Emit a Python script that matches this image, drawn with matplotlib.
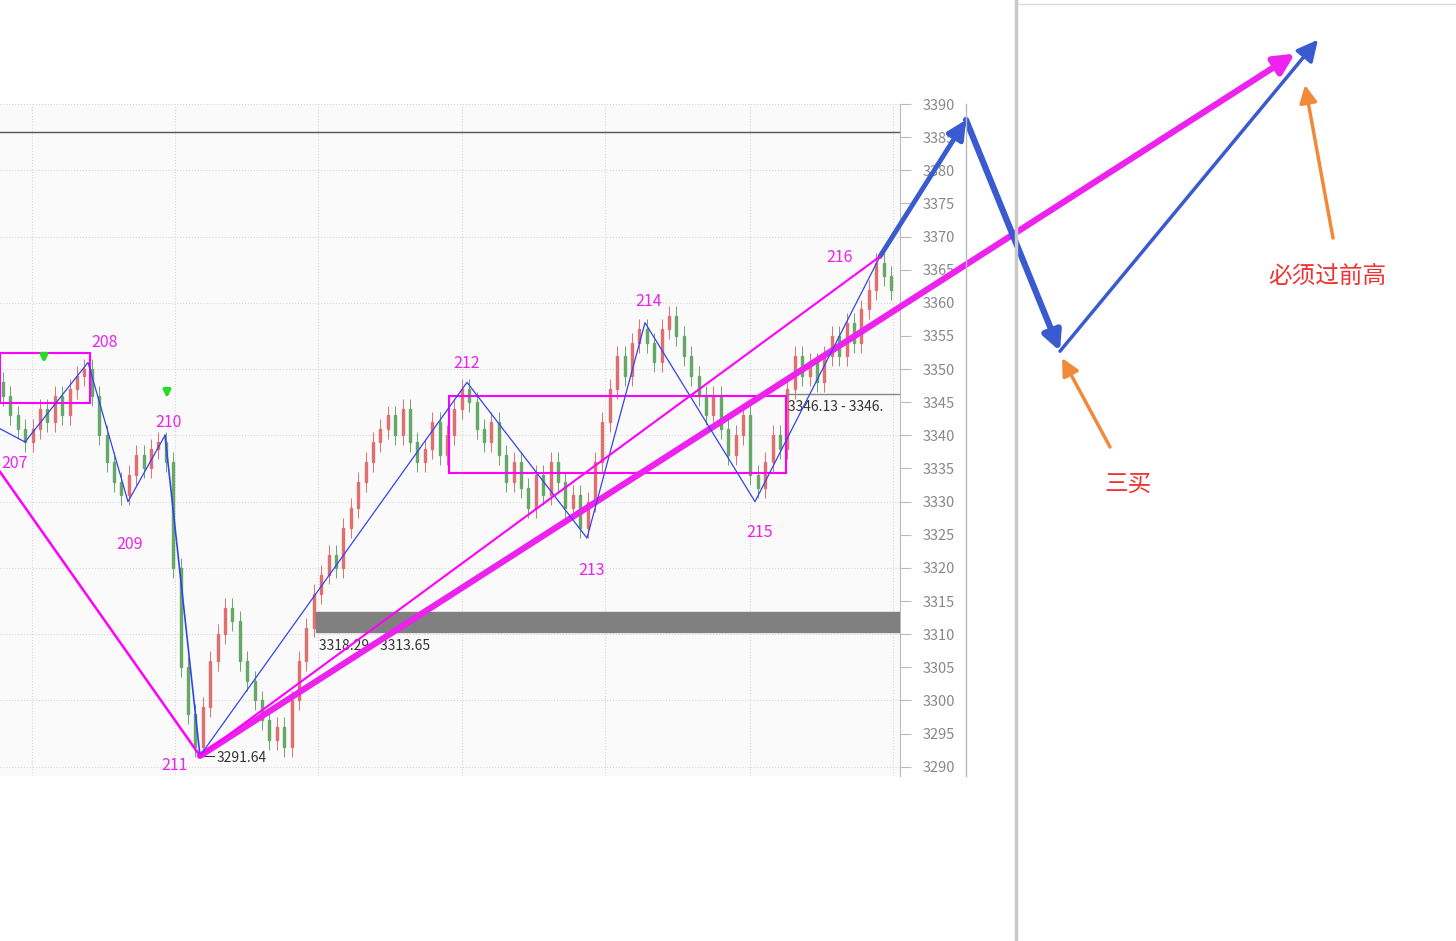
import matplotlib
matplotlib.use("Agg")
import matplotlib.pyplot as plt
from matplotlib.patches import Rectangle

plt.rcParams['font.family'] = ['Noto Sans CJK SC', 'DejaVu Sans']

closes = [3346,3343,3341,3339,
          3341,3344,3342,3346,3343,3347,3349,3350,
          3346,3340,3336,3333,3331,
          3334,3337,3335,3338,3339,
          3336,3320,3305,3298,3293,
          3299,3306,3310,3314,3312,3306,3303,3300,3297,3294,3296,3293,
          3300,3306,3311,3316,3319,
          3322,3320,3326,3329,3333,3336,3339,3341,3343,3340,3344,
          3339,3336,3338,3342,3337,3340,3344,3347,
          3345,3341,3339,3342,3337,3333,3336,3332,3329,3334,3331,3336,3333,3329,3331,3326,
          3330,3336,3342,3347,3352,3349,3354,3356,
          3354,3351,3356,3358,3355,3352,3349,3346,3343,3346,3341,3337,3340,3343,3334,3332,
          3336,3340,3338,3347,3352,3349,3351,3348,3352,3355,3352,3357,3354,3359,3362,3366,3364,
          3362]
first_open = 3348
wick = 1.5

# zigzag pivots (x position, price, label)
piv_x = [0, 25, 88, 128, 165, 200, 467, 587, 645, 755, 880]
piv_p = [3341, 3339, 3351, 3330, 3340, 3291.64, 3348, 3324.5, 3357, 3330, 3367]
piv_lbl = ["", "207", "208", "209", "210", "211", "212", "213", "214", "215", "216"]
lbl_pos = [None, (15, 3335.7), (105, 3354.0), (130, 3323.5), (168, 3341.9), (175, 3290.2),
           (467, 3350.9), (592, 3319.6), (649, 3360.2), (760, 3325.3), (840, 3366.9)]

fig = plt.figure(figsize=(14.56, 9.41), dpi=100)
ax = fig.add_axes([0, 1 - 776/941, 900/1456, 672/941])
ax.set_xlim(0, 900)
ax.set_ylim(3288.6, 3389.8)
ax.set_facecolor('#fafafa')
for s in ['top', 'left', 'bottom']:
    ax.spines[s].set_visible(False)
ax.spines['right'].set_color('#bbbbbb')
ax.yaxis.tick_right()
ax.set_yticks(range(3290, 3391, 5))
ax.tick_params(axis='y', colors='#bbbbbb', labelcolor='#888888', length=8, pad=8, labelsize=10.5)
ax.set_xticks([])
for y in range(3290, 3391, 10):
    ax.axhline(y, color='#d8d8d8', ls=':', lw=0.8, zorder=0)
for x in [32, 175, 318, 462, 605, 750, 893]:
    ax.axvline(x, color='#d8d8d8', ls=':', lw=0.8, zorder=0)

# candles
prev = first_open
for i, c in enumerate(closes):
    x = 3 + 7.4 * i
    o = prev
    col = '#e07070' if c >= o else '#66a866'
    ax.vlines(x, min(o, c) - wick, max(o, c) + wick, color=col, lw=0.7, zorder=2)
    ax.add_patch(Rectangle((x - 1.0, min(o, c)), 2, max(abs(c - o), 0.3), color=col, zorder=2))
    prev = c

# boxes and levels
ax.add_patch(Rectangle((0, 3344.9), 90, 7.5, fill=False, ec='#ff00ff', lw=1.5, zorder=3))
ax.add_patch(Rectangle((449, 3334.3), 337, 11.6, fill=False, ec='#ff00ff', lw=1.5, zorder=3))
ax.add_patch(Rectangle((316, 3310.4), 584, 2.9, color='#808080', zorder=3))
ax.axhline(3385.7, color='#555555', lw=1)
ax.plot([786, 900], [3346.3, 3346.3], color='#888888', lw=1)
ax.text(788, 3343.7, "3346.13 - 3346.", fontsize=10, color='#333333')
ax.text(319, 3307.6, "3318.29 - 3313.65", fontsize=10, color='#333333')
ax.text(217, 3290.7, "3291.64", fontsize=10, color='#333333')
ax.plot([200, 214], [3291.64, 3291.64], color='#333333', lw=0.8)

# zigzag
ax.plot(piv_x[:5], piv_p[:5], color='#3344ee', lw=0.9, zorder=4)
ax.plot(piv_x[5:], piv_p[5:], color='#3344ee', lw=0.9, zorder=4)
ax.plot([165, 200], [3340, 3291.64], color='#3344ee', lw=1.2, zorder=4)
for lbl, pos in zip(piv_lbl, lbl_pos):
    if lbl:
        ax.text(pos[0], pos[1], lbl, color='#ee22ee', fontsize=11.5, ha='center', va='center')
ax.plot([0, 200], [3334.5, 3291.64], color='#ff00ff', lw=1.8, zorder=4)
ax.plot([200, 880], [3291.64, 3367], color='#ff00ff', lw=1.5, zorder=4)

# green arrows
for x, y in [(44, 3350.5), (167, 3345.2)]:
    ax.annotate("", xy=(x, y), xytext=(x, y + 2.2),
                arrowprops=dict(arrowstyle='-|>', color='#22dd22', lw=2.5, mutation_scale=10))

# projections
ax.annotate("", xy=(1295, 3397.6), xytext=(200, 3291.64), annotation_clip=False,
            arrowprops=dict(arrowstyle='-|>', color='#ee22ee', lw=4.5, mutation_scale=30, shrinkA=0, shrinkB=0))
ax.annotate("", xy=(966, 3387.6), xytext=(880, 3367), annotation_clip=False,
            arrowprops=dict(arrowstyle='-|>', color='#3a5ad0', lw=3.5, mutation_scale=28, shrinkA=0, shrinkB=0))
ax.annotate("", xy=(1060, 3352.7), xytext=(966, 3387.6), annotation_clip=False,
            arrowprops=dict(arrowstyle='-|>', color='#3a5ad0', lw=4.5, mutation_scale=28, shrinkA=0, shrinkB=0))
ax.annotate("", xy=(1318, 3399.7), xytext=(1060, 3352.7), annotation_clip=False,
            arrowprops=dict(arrowstyle='-|>', color='#3a5ad0', lw=2.5, mutation_scale=32, shrinkA=0, shrinkB=0))

# right panel
fig.add_artist(plt.Line2D([966/1456, 966/1456], [1 - 776/941, 1 - 104/941], color='#bbbbbb', lw=1))
fig.add_artist(plt.Line2D([1016/1456, 1016/1456], [0, 1], color='#c8c8c8', lw=2.5))
fig.add_artist(plt.Line2D([1018/1456, 1], [1 - 4/941, 1 - 4/941], color='#dddddd', lw=1))
for (x1, y1), (x2, y2) in [((1333, 238), (1305, 85)), ((1110, 447), (1062, 358))]:
    ax.annotate("", xy=(x2, 941 - y2), xytext=(x1, 941 - y1), xycoords='figure pixels',
                textcoords='figure pixels', annotation_clip=False,
                arrowprops=dict(arrowstyle='-|>', color='#f08a3a', lw=2.5, mutation_scale=26, shrinkA=0, shrinkB=0))
fig.text(1327/1456, 1 - 276/941, "必须过前高", color='#ee3333', fontsize=17, ha='center', va='center')
fig.text(1128/1456, 1 - 484/941, "三买", color='#ee3333', fontsize=17, ha='center', va='center')

fig.savefig("out.png", dpi=100)
